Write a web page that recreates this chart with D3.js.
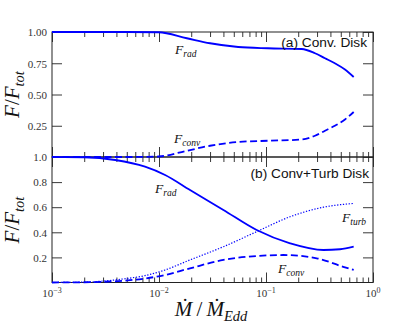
<!DOCTYPE html>
<html><head><meta charset="utf-8">
<script src="https://cdn.jsdelivr.net/npm/d3@7"></script>
<style>
html,body{margin:0;padding:0;background:#fff;}
svg{display:block;}
</style>
</head><body>
<svg id="chart" width="415" height="327"></svg>
<script>
// ---- data ----
const mdotTopRad = [0.001, 0.002, 0.005, 0.0099, 0.0182, 0.030, 0.055, 0.104, 0.216, 0.287, 0.356, 0.44, 0.547, 0.66];
const fradTop    = [1.0,   1.0,   1.0,   0.998,  0.95,   0.91,  0.88,  0.87,  0.864, 0.83,  0.79,  0.75, 0.70,  0.64];
const mdotTopConv = [0.001, 0.005, 0.0099, 0.0182, 0.030, 0.055, 0.104, 0.216, 0.287, 0.356, 0.44, 0.547, 0.66];
const fconvTop    = [0.0,   0.0,   0.004,  0.05,   0.09,  0.12,  0.13,  0.14,  0.17,  0.21,  0.25, 0.30,  0.36];

const mdotBotRad = [0.001, 0.002, 0.0039, 0.0074, 0.0114, 0.0195, 0.040, 0.0818, 0.168, 0.344, 0.492, 0.66];
const fradBot    = [1.0,   0.998, 0.976,  0.923,  0.857,  0.737,  0.578, 0.418,  0.312, 0.259, 0.265, 0.285];
const mdotBotTurb = [0.001, 0.002, 0.0048, 0.0074, 0.0114, 0.0195, 0.040, 0.0818, 0.168, 0.344, 0.66];
const fturbBot    = [0.0,   0.003, 0.03,   0.055,  0.10,   0.18,   0.285, 0.405,  0.524, 0.60,  0.63];
const mdotBotConv = [0.001, 0.002, 0.0048, 0.0114, 0.0195, 0.040, 0.0818, 0.145, 0.298, 0.527, 0.66];
const fconvBot    = [0.0,   0.002, 0.015,  0.06,   0.113,  0.18,  0.211,  0.219, 0.193, 0.125, 0.10];

const xMajor = [1e-3, 1e-2, 1e-1, 1e0];
const xMajorExp = ["−3", "−2", "−1", "0"];
const yTopTicks = [0.25, 0.5, 0.75, 1.0];
const yBotTicks = [0.2, 0.4, 0.6, 0.8, 1.0];

// ---- layout ----
const svg = d3.select("#chart");
const L = 52, R = 373, T1 = 32, MID = 157, B2 = 282.5;
const x = d3.scaleLog().domain([1e-3, 1]).range([L, R]);
const yTop = d3.scaleLinear().domain([0, 1]).range([MID, T1]);
const yBot = d3.scaleLinear().domain([0, 1]).range([B2, MID]);

const xMinor = [];
for (let d = -3; d < 0; d++) for (let k = 2; k <= 9; k++) xMinor.push(k * Math.pow(10, d));

const axCol = "#222";
const serif = "'Liberation Serif','DejaVu Serif',serif";

function styleAxis(g){
  g.select(".domain").remove();
  g.selectAll(".tick line").attr("stroke", axCol).attr("stroke-width", 0.9);
  g.selectAll(".tick text").attr("fill", "#333").attr("font-family", serif).attr("font-size", 11);
}

// frames
[[T1, MID], [MID, B2]].forEach(([a, b]) => {
  svg.append("rect").attr("x", L).attr("y", a).attr("width", R - L).attr("height", b - a)
    .attr("fill", "none").attr("stroke", axCol).attr("stroke-width", 1);
});

// x ticks: top of top panel, bottom of top panel, top of bottom panel, bottom of bottom panel
const xConfigs = [
  [d3.axisTop, T1], [d3.axisBottom, MID], [d3.axisTop, MID], [d3.axisBottom, B2]
];
xConfigs.forEach(([ax, yy]) => {
  svg.append("g").attr("transform", `translate(0,${yy})`)
    .call(ax(x).tickValues(xMajor).tickSize(-10).tickFormat(""))
    .call(styleAxis);
  svg.append("g").attr("transform", `translate(0,${yy})`)
    .call(ax(x).tickValues(xMinor).tickSize(-5).tickFormat(""))
    .call(styleAxis);
});

// x tick labels with superscripts
const xl = svg.append("g");
xMajor.forEach((v, i) => {
  const t = xl.append("text").attr("x", x(v)).attr("y", 297)
    .attr("text-anchor", "middle").attr("font-family", serif).attr("font-size", 11).attr("fill", "#333");
  t.append("tspan").text("10");
  t.append("tspan").attr("dy", -4.5).attr("font-size", 8).text(xMajorExp[i]);
});

// y axes
svg.append("g").attr("transform", `translate(${L},0)`)
  .call(d3.axisLeft(yTop).tickValues(yTopTicks).tickSize(-10).tickPadding(5).tickFormat(d3.format(".2f")))
  .call(styleAxis);
svg.append("g").attr("transform", `translate(${R},0)`)
  .call(d3.axisRight(yTop).tickValues(yTopTicks).tickSize(-10).tickFormat(""))
  .call(styleAxis);
svg.append("g").attr("transform", `translate(${L},0)`)
  .call(d3.axisLeft(yBot).tickValues(yBotTicks).tickSize(-10).tickPadding(5).tickFormat(d3.format(".1f")))
  .call(styleAxis);
svg.append("g").attr("transform", `translate(${R},0)`)
  .call(d3.axisRight(yBot).tickValues(yBotTicks).tickSize(-10).tickFormat(""))
  .call(styleAxis);
svg.selectAll(".tick text").attr("dy", "0.34em");

// curves
const blue = "#0000ff";
function curve(ms, vs, y, dash, w){
  const pts = ms.map((m, i) => [m, vs[i]]);
  svg.append("path").datum(pts)
    .attr("d", d3.line().x(d => x(d[0])).y(d => y(d[1])).curve(d3.curveMonotoneX))
    .attr("fill", "none").attr("stroke", blue).attr("stroke-width", w)
    .attr("stroke-dasharray", dash);
}
curve(mdotTopRad, fradTop, yTop, null, 1.8);
curve(mdotTopConv, fconvTop, yTop, "7,3.5", 1.8);
curve(mdotBotRad, fradBot, yBot, null, 1.8);
curve(mdotBotConv, fconvBot, yBot, "7,3.5", 1.8);
curve(mdotBotTurb, fturbBot, yBot, "1.3,1.6", 1.2);

// curve labels
function flabel(xp, yp, sub){
  const t = svg.append("text").attr("x", xp).attr("y", yp)
    .attr("font-family", serif).attr("font-style", "italic").attr("font-size", 13.5).attr("fill", "#111");
  t.append("tspan").text("F");
  t.append("tspan").attr("dy", 3).attr("font-size", 9.5).text(sub);
}
flabel(175, 54, "rad");
flabel(174, 143, "conv");
flabel(155, 193, "rad");
flabel(342, 221.5, "turb");
flabel(278, 273, "conv");

// panel titles
const sans = "'Liberation Sans',Arial,sans-serif";
svg.append("text").attr("x", 367).attr("y", 46.5).attr("text-anchor", "end")
  .attr("font-family", sans).attr("font-size", 13.7).attr("fill", "#111").text("(a) Conv. Disk");
svg.append("text").attr("x", 369).attr("y", 178).attr("text-anchor", "end")
  .attr("font-family", sans).attr("font-size", 13.7).attr("fill", "#111").text("(b) Conv+Turb Disk");

// y labels
function ylabel(cy){
  const t = svg.append("text").attr("transform", `translate(19,${cy}) rotate(-90)`)
    .attr("text-anchor", "middle").attr("font-family", serif).attr("font-size", 21).attr("fill", "#111");
  t.append("tspan").attr("font-style", "italic").text("F");
  t.append("tspan").text("/");
  t.append("tspan").attr("font-style", "italic").text("F");
  t.append("tspan").attr("font-style", "italic").attr("dy", 4.5).attr("font-size", 14.5).text("tot");
}
ylabel(94.5);
ylabel(220);

// x label
const xt = svg.append("text").attr("x", 211).attr("y", 316).attr("text-anchor", "middle")
  .attr("font-family", serif).attr("font-size", 21).attr("fill", "#111");
xt.append("tspan").attr("font-style", "italic").text("Ṁ");
xt.append("tspan").text("\u2009/\u2009");
xt.append("tspan").attr("font-style", "italic").text("Ṁ");
xt.append("tspan").attr("font-style", "italic").attr("dy", 4.5).attr("font-size", 14.5).text("Edd");
</script>
</body></html>
